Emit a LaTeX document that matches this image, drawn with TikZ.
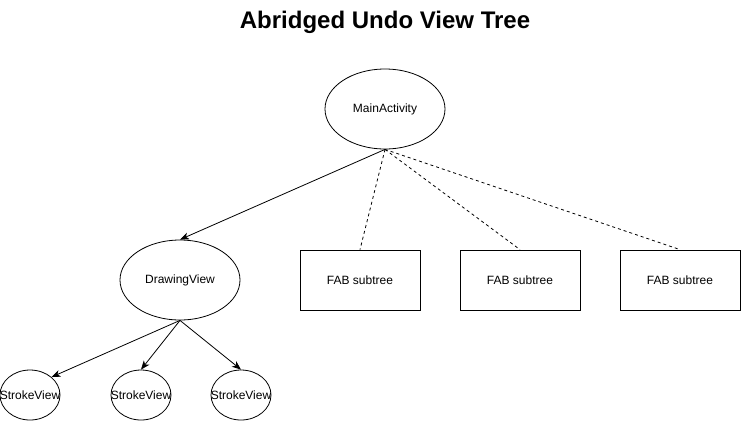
\documentclass[tikz,border=0pt]{standalone}
\usepackage{fontspec}
\setmainfont{Liberation Sans}
\usetikzlibrary{arrows.meta,shapes.geometric}

\begin{document}
\begin{tikzpicture}[x=1pt, y=-1pt, line width=0.8pt,
    view/.style={draw, ellipse, inner sep=0pt, minimum width=120pt, minimum height=80pt, font=\fontsize{12pt}{14pt}\selectfont},
    leaf/.style={view, minimum width=60pt, minimum height=50pt},
    fabbox/.style={draw, rectangle, inner sep=0pt, minimum width=120pt, minimum height=60pt, font=\fontsize{12pt}{14pt}\selectfont},
    child/.style={-{Stealth[length=9pt, width=7pt, inset=2.5pt]}},
    fab/.style={dash pattern=on 3pt off 3pt}]
  \useasboundingbox (0,0) rectangle (742,421);

  % title
  \node[anchor=base, font=\fontsize{24pt}{28pt}\selectfont\bfseries] (title) at (385,28) {Abridged Undo View Tree};

  % view tree
  \node[view] (main) at (385,109) {MainActivity};
  \node[view] (draw1) at (180,280) {DrawingView};

  \node[fabbox] (fab1) at (360,280) {FAB subtree};
  \node[fabbox] (fab2) at (520,280) {FAB subtree};
  \node[fabbox] (fab3) at (680,280) {FAB subtree};

  % text wider than the small ellipses
  \node[leaf] (s1) at (30,395) {\makebox[0pt]{StrokeView}};
  \node[leaf] (s2) at (141,395) {\makebox[0pt]{StrokeView}};
  \node[leaf] (s3) at (241,395) {\makebox[0pt]{StrokeView}};

  \draw[child] (main.south) -- (draw1.north);
  \draw[fab] (main.south) -- (fab1.north);
  \draw[fab] (main.south) -- (fab2.north);
  \draw[fab] (main.south) -- (fab3.north);

  \draw[child] (draw1.south) -- (s1.north east);
  \draw[child] (draw1.south) -- (s2.north);
  \draw[child] (draw1.south) -- (s3.north);
\end{tikzpicture}
\end{document}
